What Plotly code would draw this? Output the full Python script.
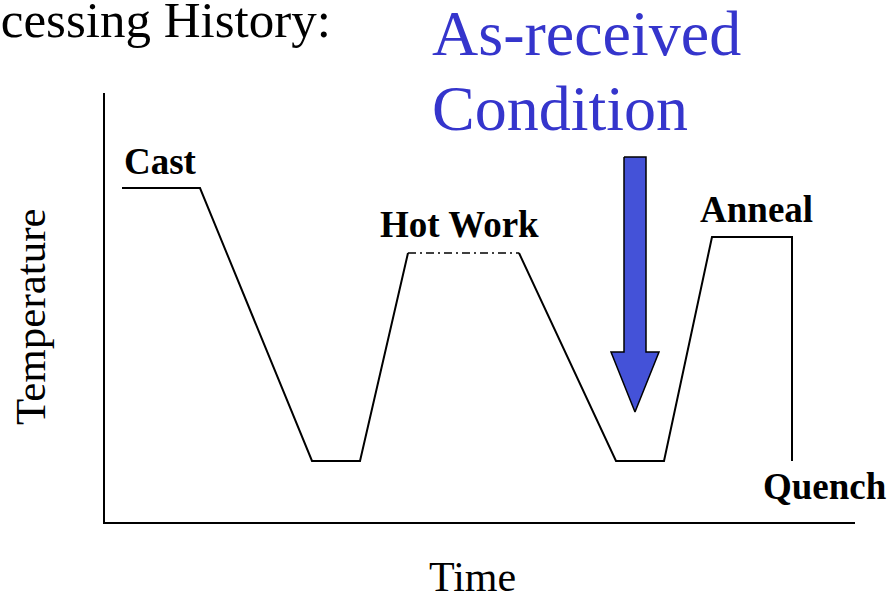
"""Schematic thermal processing history."""
import plotly.graph_objects as go

SERIF = "Liberation Serif, Times New Roman, serif"
BLUE_TEXT = "#3535cc"
ARROW_FILL = "#4452d8"

# temperature–time profile (arbitrary units, origin at the axes corner)
profile_time = [18, 96, 208, 256, 304]
profile_temp = [335, 335, 62, 62, 270]
hotwork_time = [304, 415]
hotwork_temp = [270, 270]
tail_time = [415, 512, 560, 608, 688, 688]
tail_temp = [270, 62, 62, 286, 286, 62]

# axis extent
axis_time_max = 751
axis_temp_max = 430

# as-received marker arrow
arrow_time = 531
arrow_top = 366
arrow_head_base = 171
arrow_tip = 111
arrow_shaft_half = 11
arrow_head_half = 24

fig = go.Figure()

line = dict(color="black", width=2)
fig.add_trace(go.Scatter(x=profile_time, y=profile_temp, mode="lines", line=line))
fig.add_trace(go.Scatter(x=hotwork_time, y=hotwork_temp, mode="lines",
                         line=dict(color="black", width=1.5, dash="8px,4px,2px,4px")))
fig.add_trace(go.Scatter(x=tail_time, y=tail_temp, mode="lines", line=line))

# axes
fig.add_trace(go.Scatter(x=[0, 0, axis_time_max], y=[axis_temp_max, 0, 0],
                         mode="lines", line=dict(color="black", width=2)))

# arrow polygon
ax = [arrow_time - arrow_shaft_half, arrow_time + arrow_shaft_half,
      arrow_time + arrow_shaft_half, arrow_time + arrow_head_half, arrow_time,
      arrow_time - arrow_head_half, arrow_time - arrow_shaft_half,
      arrow_time - arrow_shaft_half]
ay = [arrow_top, arrow_top, arrow_head_base, arrow_head_base, arrow_tip,
      arrow_head_base, arrow_head_base, arrow_top]
fig.add_trace(go.Scatter(x=ax, y=ay, mode="lines", fill="toself",
                         fillcolor=ARROW_FILL, line=dict(color="black", width=1.5)))


def label(text, x, y, size, color="black", bold=False, xanchor="center", angle=0):
    if bold:
        text = f"<b>{text}</b>"
    fig.add_annotation(x=x, y=y, text=text, showarrow=False, xanchor=xanchor,
                       yanchor="middle", textangle=angle,
                       font=dict(family=SERIF, size=size, color=color))


label("Processing History:", 229, 503, 51, xanchor="right")
label("As-received", 326, 490, 64, color=BLUE_TEXT, xanchor="left")
label("Condition", 326, 415, 64, color=BLUE_TEXT, xanchor="left")
label("Cast", 56, 362, 37, bold=True)
label("Hot Work", 355, 299, 37, bold=True)
label("Anneal", 652, 314, 37, bold=True)
label("Quench", 721, 37, 37, bold=True)
label("Temperature", -74, 206, 43, angle=-90)
label("Time", 368, -54, 42)

fig.update_layout(
    width=890, height=595,
    margin=dict(l=0, r=0, t=0, b=0),
    paper_bgcolor="white", plot_bgcolor="white",
    showlegend=False,
    xaxis=dict(range=[-104, 786], visible=False, fixedrange=True),
    yaxis=dict(range=[-72, 523], visible=False, fixedrange=True),
)

# drop the default page margin so the figure fills the window
fig.write_html("out.html", config={"displayModeBar": False},
               post_script="document.body.style.margin='0';")
